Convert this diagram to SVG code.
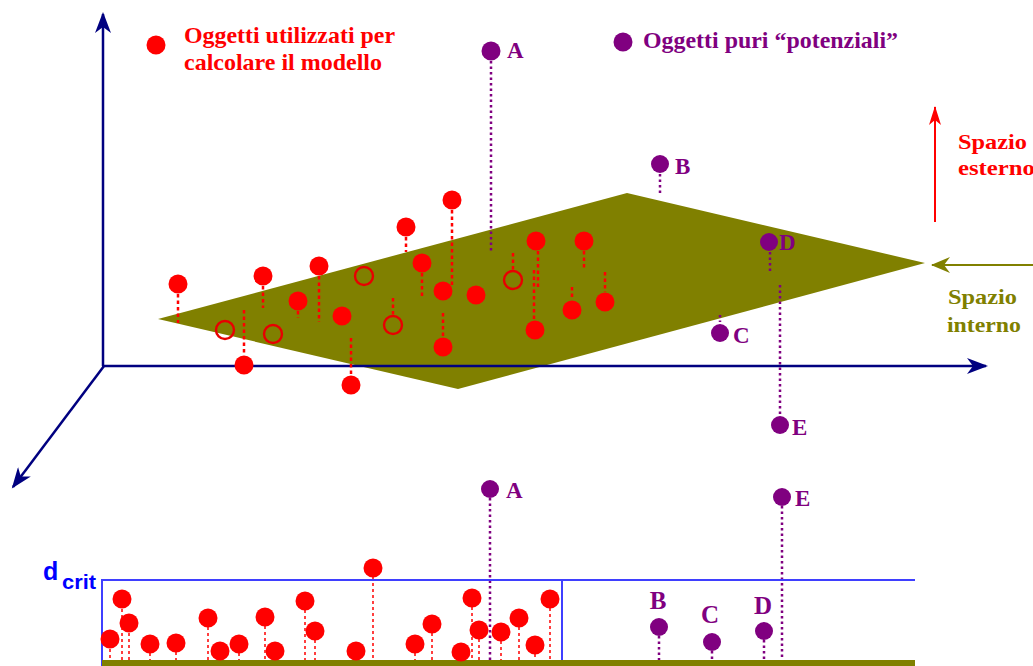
<svg xmlns="http://www.w3.org/2000/svg" width="1033" height="666" viewBox="0 0 1033 666">
<style>
.t{font-family:"Liberation Serif","Times New Roman",serif;font-weight:bold}
.red{fill:#ff0000}
.pur{fill:#800080}
.olv{fill:#808000}
.rd{fill:#ff0000}
.rh{fill:none;stroke:#e80000;stroke-width:2.4}
.pd{fill:#800080}
.axis{stroke:#000080;stroke-width:2.5;fill:none}
.rl{stroke:#ff0000;stroke-width:2.5;stroke-dasharray:3.5 3}
.rl2{stroke:#ff0000;stroke-width:1.5;stroke-dasharray:3 3}
.pl{stroke:#800080;stroke-width:2.5;stroke-dasharray:2.5 3}
.box{stroke:#3f3fff;stroke-width:2;fill:none}
</style>
<defs>
<marker id="navyHead" markerUnits="userSpaceOnUse" markerWidth="22" markerHeight="16" refX="19" refY="8" orient="auto">
<path d="M0,0 L21,8 L0,16 L6,8 Z" fill="#000080"/>
</marker>
<marker id="redHead" markerUnits="userSpaceOnUse" markerWidth="20" markerHeight="12" refX="18" refY="6" orient="auto">
<path d="M0,0 L19,6 L0,12 L5,6 Z" fill="#ff0000"/>
</marker>
<marker id="oliveHead" markerUnits="userSpaceOnUse" markerWidth="20" markerHeight="16" refX="18" refY="8" orient="auto">
<path d="M0,0 L19,8 L0,16 L6,8 Z" fill="#808000"/>
</marker>
</defs>
<rect width="1033" height="666" fill="#ffffff"/>

<g id="plane">
<polygon points="158,319 627,193 925,263 458,389" fill="#808000"/>
</g>

<g id="axes">
<line class="axis" x1="103" y1="366" x2="103" y2="14" marker-end="url(#navyHead)"/>
<line class="axis" x1="102" y1="366" x2="986" y2="366" marker-end="url(#navyHead)"/>
<line class="axis" x1="104" y1="366" x2="13" y2="487" marker-end="url(#navyHead)"/>
</g>

<g id="legend">
<circle cx="156" cy="45" r="9.5" class="rd"/>
<text class="t red" x="184" y="43" font-size="23" textLength="211" lengthAdjust="spacingAndGlyphs">Oggetti utilizzati per</text>
<text class="t red" x="184" y="70" font-size="23" textLength="198" lengthAdjust="spacingAndGlyphs">calcolare il modello</text>
<circle cx="623" cy="42" r="9.5" class="pd"/>
<text class="t pur" x="643" y="48" font-size="23" textLength="255" lengthAdjust="spacingAndGlyphs">Oggetti puri “potenziali”</text>
</g>

<g id="spazio-esterno">
<line x1="935" y1="222" x2="935" y2="107" stroke="#ff0000" stroke-width="2" marker-end="url(#redHead)"/>
<text class="t red" x="958" y="149" font-size="22" textLength="69" lengthAdjust="spacingAndGlyphs">Spazio</text>
<text class="t red" x="958" y="175" font-size="22" textLength="77" lengthAdjust="spacingAndGlyphs">esterno</text>
</g>

<g id="spazio-interno">
<line x1="1033" y1="265" x2="932" y2="265" stroke="#808000" stroke-width="2" marker-end="url(#oliveHead)"/>
<text class="t olv" x="948" y="304" font-size="22" textLength="69" lengthAdjust="spacingAndGlyphs">Spazio</text>
<text class="t olv" x="947" y="332" font-size="22" textLength="74" lengthAdjust="spacingAndGlyphs">interno</text>
</g>

<g id="connectors">
<line class="rl" x1="178" y1="294" x2="178" y2="323"/>
<line class="rl" x1="244" y1="310" x2="244" y2="355"/>
<line class="rl" x1="263" y1="286" x2="263" y2="308"/>
<line class="rl" x1="298" y1="311" x2="298" y2="318"/>
<line class="rl" x1="319" y1="276" x2="319" y2="322"/>
<line class="rl" x1="351" y1="338" x2="351" y2="375"/>
<line class="rl" x1="393" y1="298" x2="393" y2="315"/>
<line class="rl" x1="406" y1="237" x2="406" y2="252"/>
<line class="rl" x1="422" y1="273" x2="422" y2="298"/>
<line class="rl" x1="452" y1="210" x2="452" y2="287"/>
<line class="rl" x1="443" y1="313" x2="443" y2="337"/>
<line class="rl" x1="538" y1="251" x2="538" y2="290"/>
<line class="rl" x1="513" y1="253" x2="513" y2="270"/>
<line class="rl" x1="584" y1="251" x2="584" y2="268"/>
<line class="rl" x1="534" y1="270" x2="534" y2="320"/>
<line class="rl" x1="572" y1="287" x2="572" y2="300"/>
<line class="rl" x1="605" y1="272" x2="605" y2="292"/>
<line class="pl" x1="491" y1="61" x2="491" y2="253"/>
<line class="pl" x1="660" y1="174" x2="660" y2="195"/>
<line class="pl" x1="770" y1="252" x2="770" y2="272"/>
<line class="pl" x1="780" y1="285" x2="780" y2="414"/>
<line class="pl" x1="720" y1="315" x2="720" y2="322"/>
<line class="rl2" x1="110" y1="649" x2="110" y2="661"/>
<line class="rl2" x1="122" y1="609" x2="122" y2="661"/>
<line class="rl2" x1="129" y1="633" x2="129" y2="661"/>
<line class="rl2" x1="150" y1="653" x2="150" y2="661"/>
<line class="rl2" x1="176" y1="652" x2="176" y2="661"/>
<line class="rl2" x1="208" y1="627" x2="208" y2="661"/>
<line class="rl2" x1="239" y1="653" x2="239" y2="661"/>
<line class="rl2" x1="265" y1="626" x2="265" y2="661"/>
<line class="rl2" x1="305" y1="610" x2="305" y2="661"/>
<line class="rl2" x1="315" y1="640" x2="315" y2="661"/>
<line class="rl2" x1="373" y1="577" x2="373" y2="661"/>
<line class="rl2" x1="415" y1="653" x2="415" y2="661"/>
<line class="rl2" x1="432" y1="633" x2="432" y2="661"/>
<line class="rl2" x1="472" y1="607" x2="472" y2="661"/>
<line class="rl2" x1="479" y1="639" x2="479" y2="661"/>
<line class="rl2" x1="501" y1="641" x2="501" y2="661"/>
<line class="rl2" x1="519" y1="627" x2="519" y2="661"/>
<line class="rl2" x1="535" y1="654" x2="535" y2="661"/>
<line class="rl2" x1="550" y1="608" x2="550" y2="661"/>
<line class="pl" x1="490" y1="498" x2="490" y2="661"/>
<line class="pl" x1="782" y1="506" x2="782" y2="661"/>
<line class="pl" x1="659" y1="636" x2="659" y2="661"/>
<line class="pl" x1="712" y1="651" x2="712" y2="661"/>
<line class="pl" x1="764" y1="640" x2="764" y2="661"/>
</g>

<g id="red-points-3d">
<circle class="rh" cx="225" cy="330" r="9"/>
<circle class="rh" cx="273" cy="334" r="9"/>
<circle class="rh" cx="364" cy="276" r="9"/>
<circle class="rh" cx="393" cy="325" r="9"/>
<circle class="rh" cx="513" cy="280" r="9"/>
<circle class="rd" cx="178" cy="284" r="9.5"/>
<circle class="rd" cx="244" cy="365" r="9.5"/>
<circle class="rd" cx="263" cy="276" r="9.5"/>
<circle class="rd" cx="298" cy="301" r="9.5"/>
<circle class="rd" cx="319" cy="266" r="9.5"/>
<circle class="rd" cx="342" cy="316" r="9.5"/>
<circle class="rd" cx="351" cy="385" r="9.5"/>
<circle class="rd" cx="406" cy="227" r="9.5"/>
<circle class="rd" cx="422" cy="263" r="9.5"/>
<circle class="rd" cx="452" cy="200" r="9.5"/>
<circle class="rd" cx="443" cy="291" r="9.5"/>
<circle class="rd" cx="443" cy="347" r="9.5"/>
<circle class="rd" cx="476" cy="295" r="9.5"/>
<circle class="rd" cx="536" cy="241" r="9.5"/>
<circle class="rd" cx="584" cy="241" r="9.5"/>
<circle class="rd" cx="535" cy="330" r="9.5"/>
<circle class="rd" cx="572" cy="310" r="9.5"/>
<circle class="rd" cx="605" cy="302" r="9.5"/>
</g>

<g id="point-A-3d"><circle class="pd" cx="491" cy="51" r="9.5"/><text class="t pur" x="507" y="58" font-size="23">A</text></g>
<g id="point-B-3d"><circle class="pd" cx="660" cy="164" r="9"/><text class="t pur" x="675" y="174" font-size="23">B</text></g>
<g id="point-D-3d"><circle class="pd" cx="769" cy="242" r="9"/><text class="t pur" x="779" y="250" font-size="23">D</text></g>
<g id="point-C-3d"><circle class="pd" cx="720" cy="333" r="9"/><text class="t pur" x="733" y="343" font-size="23">C</text></g>
<g id="point-E-3d"><circle class="pd" cx="780" cy="425" r="9"/><text class="t pur" x="792" y="435" font-size="23">E</text></g>

<g id="dcrit-panel">
<line class="box" x1="102" y1="580" x2="915" y2="580"/>
<line class="box" x1="102" y1="579" x2="102" y2="666"/>
<line class="box" x1="562" y1="580" x2="562" y2="666"/>
<rect x="102" y="660" width="813" height="6" fill="#808000"/>
<text x="43" y="580" font-family="Liberation Sans, Arial, sans-serif" font-weight="bold" font-size="25" fill="#0000ff">d</text>
<text x="62" y="589" font-family="Liberation Sans, Arial, sans-serif" font-weight="bold" font-size="20" fill="#0000ff" textLength="34" lengthAdjust="spacingAndGlyphs">crit</text>
</g>

<g id="red-points-1d">
<circle class="rd" cx="110" cy="639" r="9.5"/>
<circle class="rd" cx="122" cy="599" r="9.5"/>
<circle class="rd" cx="129" cy="623" r="9.5"/>
<circle class="rd" cx="150" cy="644" r="9.5"/>
<circle class="rd" cx="176" cy="643" r="9.5"/>
<circle class="rd" cx="208" cy="618" r="9.5"/>
<circle class="rd" cx="220" cy="651" r="9.5"/>
<circle class="rd" cx="239" cy="644" r="9.5"/>
<circle class="rd" cx="265" cy="617" r="9.5"/>
<circle class="rd" cx="275" cy="651" r="9.5"/>
<circle class="rd" cx="305" cy="601" r="9.5"/>
<circle class="rd" cx="315" cy="631" r="9.5"/>
<circle class="rd" cx="356" cy="651" r="9.5"/>
<circle class="rd" cx="373" cy="568" r="9.5"/>
<circle class="rd" cx="415" cy="644" r="9.5"/>
<circle class="rd" cx="432" cy="624" r="9.5"/>
<circle class="rd" cx="461" cy="652" r="9.5"/>
<circle class="rd" cx="472" cy="598" r="9.5"/>
<circle class="rd" cx="479" cy="630" r="9.5"/>
<circle class="rd" cx="501" cy="632" r="9.5"/>
<circle class="rd" cx="519" cy="618" r="9.5"/>
<circle class="rd" cx="535" cy="645" r="9.5"/>
<circle class="rd" cx="550" cy="599" r="9.5"/>
</g>

<g id="point-A-1d"><circle class="pd" cx="490" cy="489" r="9"/><text class="t pur" x="506" y="498" font-size="23">A</text></g>
<g id="point-E-1d"><circle class="pd" cx="782" cy="497" r="9"/><text class="t pur" x="795" y="506" font-size="23">E</text></g>
<g id="point-B-1d"><circle class="pd" cx="659" cy="627" r="9"/><text class="t pur" x="658" y="609" font-size="25" text-anchor="middle">B</text></g>
<g id="point-C-1d"><circle class="pd" cx="712" cy="642" r="9"/><text class="t pur" x="710" y="623" font-size="25" text-anchor="middle">C</text></g>
<g id="point-D-1d"><circle class="pd" cx="764" cy="631" r="9"/><text class="t pur" x="763" y="614" font-size="25" text-anchor="middle">D</text></g>
</svg>
